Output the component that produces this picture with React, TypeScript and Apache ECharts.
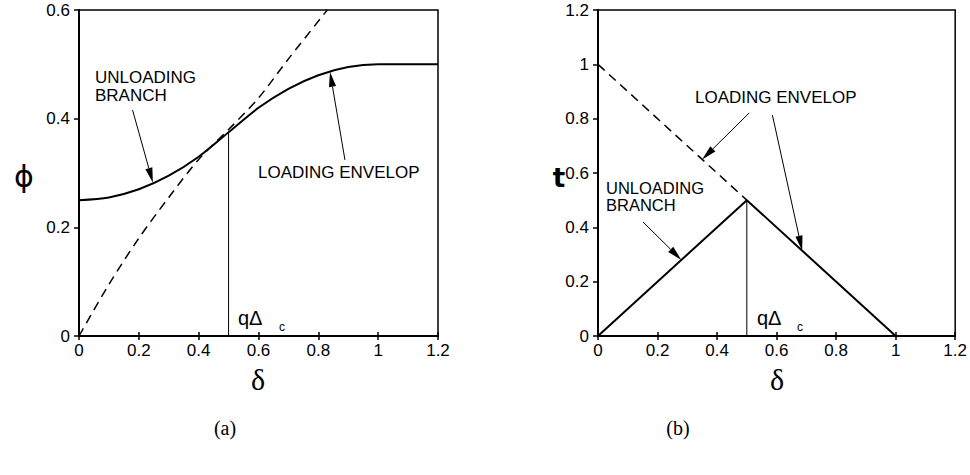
import React, { useEffect, useRef } from "react";
import * as echarts from "echarts";

// Panel (a): phi vs delta
const deltaSolidA = [0, 0.1, 0.2, 0.3, 0.4, 0.5, 0.6, 0.7, 0.8, 0.9, 1.0, 1.2];
const phiSolidA = [0.25, 0.255, 0.27, 0.295, 0.33, 0.375, 0.42, 0.455, 0.48, 0.495, 0.5, 0.5];
const deltaDashedA = [0, 0.1, 0.2, 0.3, 0.4, 0.5, 0.6, 0.7, 0.83];
const phiDashedA = [0, 0.095, 0.18, 0.255, 0.325, 0.38, 0.438, 0.51, 0.6];
const vertA = [[0.5, 0], [0.5, 0.375]];
// arrows: [fromX, fromY, tipX, tipY]
const arrowsA = [
  [0.179, 0.416, 0.247, 0.282],
  [0.889, 0.324, 0.839, 0.486],
];

// Panel (b): t vs delta
const deltaSolidB = [0, 0.5, 1];
const tSolidB = [0, 0.5, 0];
const deltaDashedB = [0, 0.5];
const tDashedB = [1, 0.5];
const vertB = [[0.5, 0], [0.5, 0.5]];
const arrowsB = [
  [0.508, 0.821, 0.35, 0.65],
  [0.586, 0.813, 0.686, 0.314],
  [0.151, 0.42, 0.28, 0.28],
];

const xTickLabels = ["0", "0.2", "0.4", "0.6", "0.8", "1", "1.2"];

const FONT = "Liberation Sans, Arial, Helvetica, sans-serif";

function zip(xs: number[], ys: number[]) {
  return xs.map((x, i) => [x, ys[i]]);
}

function arrowRender(params: any, api: any) {
  const p1 = api.coord([api.value(0), api.value(1)]);
  const p2 = api.coord([api.value(2), api.value(3)]);
  const dx = p2[0] - p1[0];
  const dy = p2[1] - p1[1];
  const len = Math.sqrt(dx * dx + dy * dy);
  const ux = dx / len;
  const uy = dy / len;
  const nx = -uy;
  const ny = ux;
  const hl = 15;
  const hw = 3.6;
  const bx = p2[0] - ux * hl;
  const by = p2[1] - uy * hl;
  return {
    type: "group",
    children: [
      {
        type: "line",
        shape: { x1: p1[0], y1: p1[1], x2: bx, y2: by },
        style: { stroke: "#000", lineWidth: 1 },
      },
      {
        type: "polygon",
        shape: {
          points: [
            [p2[0], p2[1]],
            [bx + nx * hw, by + ny * hw],
            [bx - nx * hw, by - ny * hw],
          ],
        },
        style: { fill: "#000" },
      },
    ],
  };
}

export default function App() {
  const ref = useRef<HTMLDivElement>(null);
  useEffect(() => {
    if (!ref.current) return;
    const chart = echarts.init(ref.current, undefined, { renderer: "svg" });

    const makeX = (gi: number) => [
      {
        type: "value",
        gridIndex: gi,
        min: 0,
        max: 1.2,
        interval: 0.2,
        axisLine: { show: true, onZero: false, lineStyle: { color: "#000", width: 2 } },
        axisTick: { show: true, inside: false, length: 4, lineStyle: { color: "#000", width: 1.5 } },
        axisLabel: {
          color: "#000",
          fontSize: 17,
          fontFamily: FONT,
          margin: 6,
          formatter: (v: number) => xTickLabels[Math.round(v / 0.2)],
        },
        splitLine: { show: false },
      },
      {
        type: "value",
        gridIndex: gi,
        position: "bottom",
        min: 0,
        max: 1.2,
        interval: 0.2,
        axisLine: { show: false },
        axisTick: { show: true, inside: true, length: 4, lineStyle: { color: "#000", width: 1.5 } },
        axisLabel: { show: false },
        splitLine: { show: false },
      },
    ];

    const makeY = (gi: number, max: number) => ({
      type: "value",
      gridIndex: gi,
      min: 0,
      max,
      interval: 0.2,
      axisLine: { show: true, onZero: false, lineStyle: { color: "#000", width: 2 } },
      axisTick: { show: true, inside: false, length: 5, lineStyle: { color: "#000", width: 1.5 } },
      axisLabel: {
        color: "#000",
        fontSize: 17,
        fontFamily: FONT,
        margin: 9,
        formatter: (v: number) => (v === 0 ? "0" : v === 1 ? "1" : String(Math.round(v * 10) / 10)),
      },
      splitLine: { show: false },
    });

    const text = (x: number, y: number, t: string, size: number, extra: any = {}) => ({
      type: "text",
      x,
      y,
      style: {
        text: t,
        fill: "#000",
        font: `${size}px ${FONT}`,
        textVerticalAlign: "middle",
        ...extra,
      },
    });

    chart.setOption({
      animation: false,
      backgroundColor: "#fff",
      grid: [
        { left: 79, top: 10, width: 359, height: 326, show: true, borderColor: "#000", borderWidth: 1.5, backgroundColor: "transparent" },
        { left: 598, top: 10, width: 359, height: 326, show: true, borderColor: "#000", borderWidth: 1.5, backgroundColor: "transparent" },
      ],
      xAxis: [...makeX(0), ...makeX(1)],
      yAxis: [makeY(0, 0.6), makeY(1, 1.2)],
      series: [
        {
          type: "line",
          xAxisIndex: 0,
          yAxisIndex: 0,
          data: zip(deltaSolidA, phiSolidA),
          smooth: 0.3,
          showSymbol: false,
          lineStyle: { color: "#000", width: 2 },
        },
        {
          type: "line",
          xAxisIndex: 0,
          yAxisIndex: 0,
          data: zip(deltaDashedA, phiDashedA),
          smooth: 0.3,
          showSymbol: false,
          lineStyle: { color: "#000", width: 1.5, type: [9, 6] },
        },
        {
          type: "line",
          xAxisIndex: 0,
          yAxisIndex: 0,
          data: vertA,
          showSymbol: false,
          lineStyle: { color: "#000", width: 1 },
        },
        {
          type: "custom",
          xAxisIndex: 0,
          yAxisIndex: 0,
          data: arrowsA,
          encode: { x: [0, 2], y: [1, 3] },
          renderItem: arrowRender,
          clip: false,
        },
        {
          type: "line",
          xAxisIndex: 2,
          yAxisIndex: 1,
          data: zip(deltaSolidB, tSolidB),
          showSymbol: false,
          lineStyle: { color: "#000", width: 2 },
        },
        {
          type: "line",
          xAxisIndex: 2,
          yAxisIndex: 1,
          data: zip(deltaDashedB, tDashedB),
          showSymbol: false,
          lineStyle: { color: "#000", width: 1.5, type: [9, 6] },
        },
        {
          type: "line",
          xAxisIndex: 2,
          yAxisIndex: 1,
          data: vertB,
          showSymbol: false,
          lineStyle: { color: "#000", width: 1 },
        },
        {
          type: "custom",
          xAxisIndex: 2,
          yAxisIndex: 1,
          data: arrowsB,
          encode: { x: [0, 2], y: [1, 3] },
          renderItem: arrowRender,
          clip: false,
        },
      ],
      graphic: [
        // axis names
        text(258, 379, "δ", 30, { textAlign: "center", font: "30px Liberation Serif, DejaVu Serif, serif" }),
        text(777, 379, "δ", 30, { textAlign: "center", font: "30px Liberation Serif, DejaVu Serif, serif" }),
        text(24, 176, "ϕ", 30, { textAlign: "center", font: "30px DejaVu Sans, sans-serif" }),
        text(559, 178, "t", 26, { textAlign: "center", font: "bold 26px DejaVu Sans, sans-serif" }),
        // panel (a) annotations
        text(95, 86, "UNLOADING\nBRANCH", 17, { lineHeight: 18 }),
        text(258, 172, "LOADING ENVELOP", 17),
        text(238, 318, "qΔ", 20),
        text(279, 327, "c", 12),
        // panel (b) annotations
        text(695, 97, "LOADING ENVELOP", 17),
        text(606, 196.5, "UNLOADING\nBRANCH", 16.5, { lineHeight: 17.5 }),
        text(757, 318, "qΔ", 20),
        text(797, 327, "c", 12),
        // captions
        text(225, 428, "(a)", 20, { textAlign: "center", font: "20px Liberation Serif, DejaVu Serif, serif" }),
        text(678, 428, "(b)", 20, { textAlign: "center", font: "20px Liberation Serif, DejaVu Serif, serif" }),
      ],
    });

    return () => chart.dispose();
  }, []);

  return (
    <div
      ref={ref}
      style={{ position: "fixed", left: 0, top: 0, width: 970, height: 475, background: "#fff" }}
    />
  );
}
